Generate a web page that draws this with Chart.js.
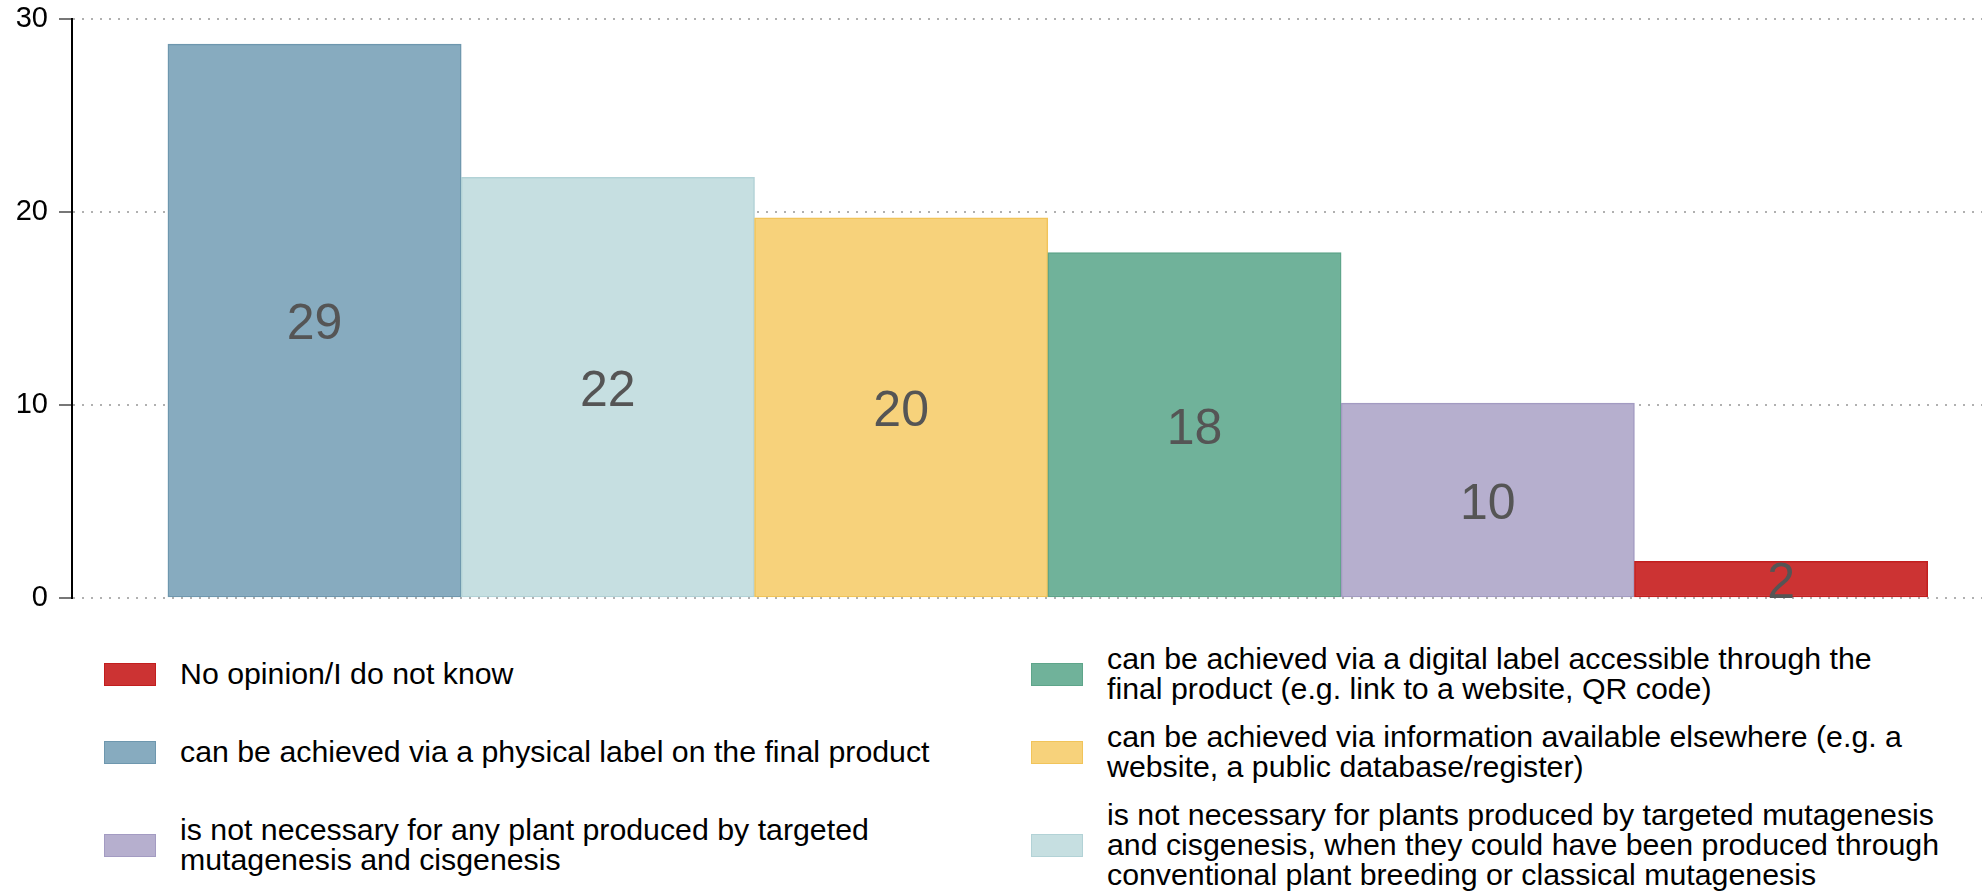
<!DOCTYPE html>
<html>
<head>
<meta charset="utf-8">
<script src="https://cdn.jsdelivr.net/npm/chart.js@4/dist/chart.umd.min.js"></script>
<style>
body{margin:0;background:#fff;font-family:"Liberation Sans",Arial,sans-serif;}
#wrap{position:relative;width:1982px;height:892px;overflow:hidden}
#chartBox{position:absolute;left:0;top:0;width:1982px;height:630px}
#legend{position:absolute;left:104px;top:644px;display:grid;grid-template-columns:927px 927px;grid-auto-flow:column;grid-template-rows:60px 60px 90px;row-gap:18px}
.item{display:flex;align-items:center}
.sw{width:50px;height:21px;flex:none;margin-right:24px;border:1.5px solid}
.txt{font-size:30.3px;line-height:30px;color:#000;white-space:pre}
</style>
</head>
<body>
<div id="wrap">
  <div id="chartBox"><canvas id="chart"></canvas></div>
  <div id="legend"></div>
</div>
<script>
// bars, left to right
const categories = [
  "can be achieved via a physical label on the final product",
  "is not necessary for plants produced by targeted mutagenesis\nand cisgenesis, when they could have been produced through\nconventional plant breeding or classical mutagenesis",
  "can be achieved via information available elsewhere (e.g. a\nwebsite, a public database/register)",
  "can be achieved via a digital label accessible through the\nfinal product (e.g. link to a website, QR code)",
  "is not necessary for any plant produced by targeted\nmutagenesis and cisgenesis",
  "No opinion/I do not know"
]
const values = [28.7, 21.8, 19.7, 17.9, 10.1, 1.9]
const fills = ["#87abbf", "#c6dfe1", "#f7d27b", "#70b29a", "#b6afce", "#cc3333"]
const edges = ["#6e97ae", "#b2d2d6", "#f1c45a", "#5ea58a", "#a39bc2", "#c21e1e"]
// legend order (column by column)
const legendOrder = [5, 0, 4, 3, 2, 1]
const yTicks = [0, 10, 20, 30]

const valueLabels = {
  id: "valueLabels",
  afterDatasetsDraw(chart){
    const ctx = chart.ctx
    const meta = chart.getDatasetMeta(0)
    ctx.save()
    ctx.font = '50px "Liberation Sans", Arial, sans-serif'
    ctx.fillStyle = "#555555"
    ctx.textAlign = "center"
    ctx.textBaseline = "middle"
    meta.data.forEach((bar, i) => {
      const p = bar.getProps(["x", "y", "base"], true)
      ctx.fillText(String(Math.round(values[i])), p.x, (p.y + p.base) / 2 + 5)
    })
    ctx.restore()
  }
}

new Chart(document.getElementById("chart"), {
  type: "bar",
  data: {
    datasets: [{
      data: values.map((v, i) => ({x: i, y: v})),
      backgroundColor: fills,
      borderColor: edges,
      borderWidth: 1.5,
      borderSkipped: false,
      barPercentage: 1,
      categoryPercentage: 1
    }]
  },
  options: {
    responsive: true,
    maintainAspectRatio: false,
    animation: false,
    layout: {padding: {top: 19, bottom: 32, left: 0, right: 0}},
    plugins: {legend: {display: false}, tooltip: {enabled: false}},
    scales: {
      x: {
        type: "linear", display: false, min: -0.827, max: 5.685, offset: false,
        afterBuildTicks: s => { s.ticks = values.map((v, i) => ({value: i})) }
      },
      y: {
        min: 0, max: 30,
        afterBuildTicks: s => { s.ticks = yTicks.map(v => ({value: v})) },
        afterFit: s => { s.width = 72; s.paddingTop = 0; s.paddingBottom = 0 },
        ticks: {color: "#000", font: {family: "Liberation Sans", size: 29}, padding: 11},
        grid: {color: "#b0b0b0", lineWidth: 2, tickLength: 13, tickColor: "#777", tickWidth: 2, tickBorderDash: []},
        border: {display: true, color: "#000", width: 2, dash: [2, 7]}
      }
    }
  },
  plugins: [valueLabels]
})

const legend = document.getElementById("legend")
legendOrder.forEach(i => {
  const item = document.createElement("div")
  item.className = "item"
  item.innerHTML = `<div class="sw" style="background:${fills[i]};border-color:${edges[i]}"></div><div class="txt"></div>`
  item.querySelector(".txt").textContent = categories[i]
  legend.appendChild(item)
})
</script>
</body>
</html>
